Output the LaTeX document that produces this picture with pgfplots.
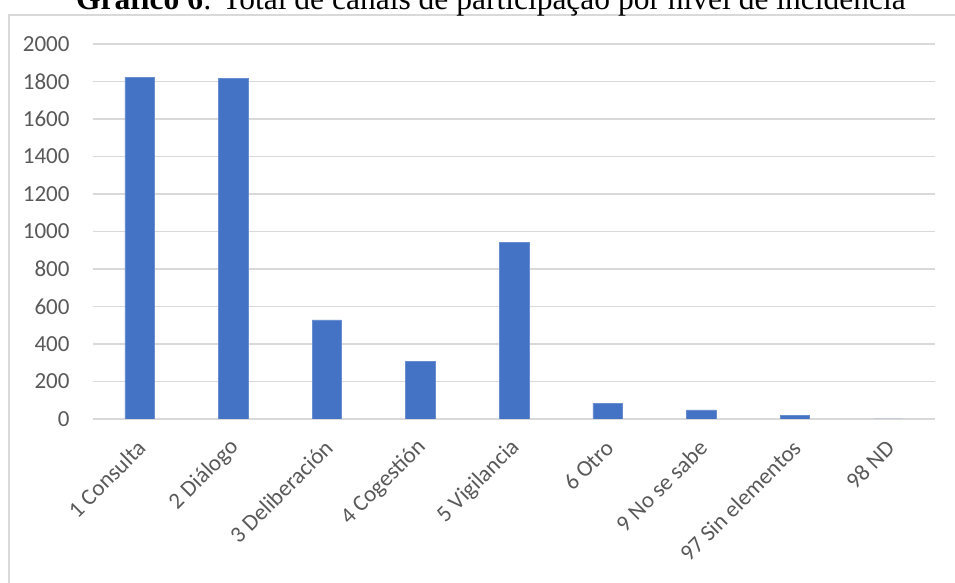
\documentclass[border=0pt]{standalone}
\usepackage{fontspec}
\setmainfont{Carlito}
\newfontfamily\titlefont{Liberation Serif}
\usepackage{pgfplots}
\pgfplotsset{compat=1.18}

\definecolor{barblue}{HTML}{4472C4}
\definecolor{gridgray}{HTML}{D9D9D9}
\definecolor{labelgray}{HTML}{595959}

% Canales de participación por nivel de incidencia
\pgfplotstableread{
idx valor
0 1823
1 1816
2 529
3 306
4 943
5 85
6 48
7 18
8 1
}\canales

\begin{document}
\begin{tikzpicture}[x=1pt,y=1pt]
\useasboundingbox (0,0) rectangle (955,583);
% chart frame
\draw[gridgray, line width=1.3pt] (9,-10) -- (9,568) -- (970,568);
% title
\node[anchor=base, inner sep=0pt, font=\titlefont\fontsize{31.5}{36}\selectfont]
  at (491,573) {\textbf{Gráfico 6}: Total de canais de participação por nível de incidência};
\begin{axis}[
  at={(92.7pt,164pt)}, anchor=south west,
  scale only axis, width=842.6pt, height=375pt,
  xmin=-0.5, xmax=8.5, ymin=0, ymax=2000,
  ytick={0,200,...,2000},
  xtick={0,...,8},
  xticklabels={1 Consulta, 2 Diálogo, 3 Deliberación, 4 Cogestión, 5 Vigilancia, 6 Otro, 9 No se sabe, 97 Sin elementos, 98 ND},
  ymajorgrids,
  grid style={gridgray, line width=1.3pt},
  axis line style={draw=none},
  major tick length=0pt,
  tick label style={font=\fontsize{23}{27}\selectfont, text=labelgray},
  yticklabel style={anchor=east, inner sep=0pt, xshift=-23pt},
  xticklabel style={xshift=2pt, yshift=-25pt, rotate=45, anchor=east, inner sep=0pt},
  /pgf/number format/assume math mode=true,
  /pgf/number format/1000 sep={},
]
\addplot[ybar, bar width=29.5pt, fill=barblue, draw=barblue!80!white, line width=0.5pt]
  table[x=idx, y=valor] {\canales};
\end{axis}
\end{tikzpicture}
\end{document}
